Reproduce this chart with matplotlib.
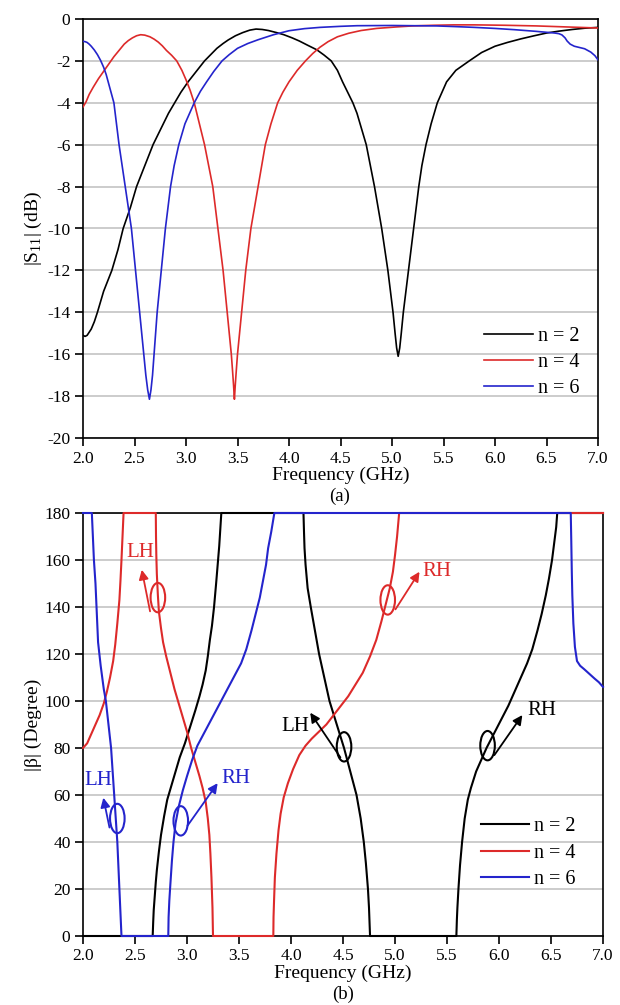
import numpy as np
import matplotlib
matplotlib.use('Agg')
import matplotlib.pyplot as plt
from matplotlib.patches import Ellipse

plt.rcParams['font.family'] = ['Liberation Serif', 'DejaVu Serif']
plt.rcParams['mathtext.fontset'] = 'custom'
plt.rcParams['mathtext.rm'] = 'Liberation Serif'
plt.rcParams['axes.unicode_minus'] = False
plt.rcParams['font.size'] = 12.5

# ---------------- (a) |S11| data ----------------
s11_n2_f = [2.0, 2.02, 2.04, 2.06, 2.08, 2.11, 2.14, 2.17, 2.2, 2.24, 2.28, 2.31, 2.34, 2.365, 2.39, 2.425,
            2.46, 2.49, 2.52, 2.56, 2.6, 2.64, 2.68, 2.73, 2.78, 2.83, 2.89, 2.95, 3.02, 3.1, 3.18, 3.24,
            3.3, 3.36, 3.41, 3.48, 3.55, 3.62, 3.68, 3.74, 3.8, 3.88, 3.95, 4.03, 4.1, 4.18, 4.27, 4.34,
            4.41, 4.47, 4.52, 4.57, 4.62, 4.66, 4.69, 4.72, 4.75, 4.79, 4.83, 4.865, 4.9, 4.93, 4.96, 4.985,
            5.01, 5.03, 5.045, 5.06, 5.075, 5.09, 5.11, 5.135, 5.16, 5.185, 5.21, 5.235, 5.26, 5.29, 5.33,
            5.38, 5.44, 5.53, 5.62, 5.75, 5.87, 6.0, 6.12, 6.25, 6.38, 6.5, 6.62, 6.75, 6.87, 7.0]
s11_n2 = [-15.1, -15.15, -15.1, -14.95, -14.8, -14.45, -14.0, -13.5, -13.0, -12.5, -12.0, -11.5, -11.0, -10.5, -10.0, -9.5,
          -9.0, -8.5, -8.0, -7.5, -7.0, -6.5, -6.0, -5.5, -5.0, -4.5, -4.0, -3.5, -3.0, -2.5, -2.0, -1.7,
          -1.4, -1.17, -1.0, -0.8, -0.65, -0.53, -0.48, -0.5, -0.55, -0.65, -0.75, -0.9, -1.05, -1.25, -1.47, -1.72,
          -2.0, -2.45, -3.0, -3.5, -4.0, -4.5, -5.0, -5.5, -6.0, -7.0, -8.0, -9.0, -10.0, -11.0, -12.0, -13.0,
          -14.0, -15.0, -15.7, -16.1, -15.7, -15.0, -14.0, -13.0, -12.0, -11.0, -10.0, -9.0, -8.0, -7.0, -6.0,
          -5.0, -4.0, -3.0, -2.45, -2.0, -1.6, -1.3, -1.12, -0.95, -0.8, -0.67, -0.58, -0.5, -0.44, -0.4]

s11_n4_f = [2.0, 2.03, 2.06, 2.1, 2.15, 2.2, 2.25, 2.3, 2.35, 2.4, 2.44, 2.48, 2.52, 2.56, 2.6, 2.65, 2.69,
            2.73, 2.77, 2.81, 2.86, 2.91, 2.96, 3.0, 3.04, 3.08, 3.13, 3.18, 3.22, 3.26, 3.285, 3.31, 3.335,
            3.36, 3.38, 3.4, 3.42, 3.44, 3.452, 3.462, 3.47, 3.478, 3.488, 3.5, 3.52, 3.54, 3.56, 3.58, 3.605,
            3.63, 3.665, 3.7, 3.735, 3.77, 3.825, 3.89, 3.94, 4.0, 4.08, 4.16, 4.23, 4.3, 4.38, 4.47, 4.58,
            4.7, 4.85, 5.04, 5.2, 5.4, 5.6, 5.8, 6.1, 6.4, 6.7, 7.0]
s11_n4 = [-4.2, -3.95, -3.6, -3.25, -2.85, -2.5, -2.15, -1.8, -1.5, -1.2, -1.03, -0.9, -0.8, -0.75, -0.77, -0.85, -0.96,
          -1.1, -1.28, -1.5, -1.73, -2.0, -2.45, -2.9, -3.4, -4.0, -5.0, -6.0, -7.0, -8.0, -9.0, -10.0, -11.0,
          -12.0, -13.0, -14.0, -15.0, -16.0, -16.8, -17.5, -18.15, -17.5, -16.8, -16.0, -15.0, -14.0, -13.0, -12.0, -11.0,
          -10.0, -9.0, -8.0, -7.0, -6.0, -5.0, -4.0, -3.5, -3.0, -2.45, -2.0, -1.65, -1.35, -1.08, -0.85, -0.68,
          -0.55, -0.45, -0.38, -0.33, -0.3, -0.28, -0.28, -0.3, -0.33, -0.38, -0.43]

s11_n6_f = [2.0, 2.02, 2.04, 2.06, 2.08, 2.11, 2.14, 2.17, 2.2, 2.225, 2.25, 2.275, 2.3, 2.325, 2.35, 2.38,
            2.41, 2.44, 2.47, 2.49, 2.51, 2.53, 2.55, 2.57, 2.59, 2.61, 2.628, 2.645, 2.66, 2.675, 2.69, 2.705,
            2.72, 2.74, 2.76, 2.78, 2.8, 2.825, 2.85, 2.885, 2.93, 2.99, 3.08, 3.14, 3.2, 3.27, 3.35, 3.42,
            3.5, 3.6, 3.7, 3.85, 4.0, 4.15, 4.3, 4.5, 4.66, 5.0, 5.2, 5.43, 5.6, 5.8, 6.0, 6.19, 6.4, 6.58,
            6.62, 6.65, 6.68, 6.7, 6.73, 6.77, 6.82, 6.87, 6.93, 6.97, 7.0]
s11_n6 = [-1.07, -1.08, -1.12, -1.2, -1.3, -1.48, -1.7, -1.97, -2.3, -2.65, -3.1, -3.55, -4.0, -5.0, -6.0, -7.0,
          -8.0, -9.0, -10.0, -11.0, -12.0, -13.0, -14.0, -15.0, -16.0, -17.0, -17.7, -18.15, -17.7, -17.0, -16.0, -15.0,
          -14.0, -13.0, -12.0, -11.0, -10.0, -9.0, -8.0, -7.0, -6.0, -5.0, -4.0, -3.45, -3.0, -2.5, -2.0, -1.7,
          -1.4, -1.17, -0.99, -0.75, -0.56, -0.46, -0.4, -0.35, -0.32, -0.31, -0.32, -0.33, -0.36, -0.4, -0.45, -0.51, -0.59, -0.67,
          -0.7, -0.76, -0.9, -1.05, -1.2, -1.3, -1.36, -1.42, -1.58, -1.75, -1.95]

# ---------------- (b) |beta| data ----------------
b_n2_f = [2.0, 2.67, 2.675, 2.68, 2.69, 2.7, 2.71, 2.73, 2.75, 2.78, 2.81, 2.85, 2.89, 2.93, 2.98, 3.03,
          3.08, 3.12, 3.15, 3.18, 3.2, 3.22, 3.24, 3.26, 3.28, 3.295, 3.31, 3.32, 3.33,
          4.12, 4.125, 4.13, 4.14, 4.16, 4.19, 4.23, 4.27, 4.32, 4.37, 4.44, 4.51, 4.57, 4.63, 4.67, 4.7,
          4.72, 4.74, 4.75, 4.76,
          5.59, 5.595, 5.6, 5.61, 5.625, 5.645, 5.67, 5.7, 5.73, 5.78, 5.83, 5.88, 5.95, 6.02, 6.09, 6.15,
          6.21, 6.27, 6.32, 6.37, 6.41, 6.45, 6.48, 6.51, 6.53, 6.55, 6.56, 7.0]
b_n2 = [0, 0, 6, 11, 17, 23, 28, 36, 43, 51, 58, 64, 70, 76, 82, 89,
        96, 102, 107, 113, 119, 126, 132, 140, 150, 158, 166, 173, 180,
        180, 172, 165, 158, 148, 140, 130, 120, 110, 100, 90, 80, 70, 60, 50, 40,
        31, 20, 12, 0,
        0, 7, 12, 20, 30, 40, 50, 58, 63, 70, 75, 80, 86, 92, 98, 104,
        110, 116, 122, 130, 137, 145, 152, 160, 167, 174, 180, 180]

b_n4_f = [2.0, 2.04, 2.08, 2.12, 2.16, 2.2, 2.23, 2.26, 2.29, 2.31, 2.33, 2.35, 2.36, 2.37, 2.38, 2.39,
          2.7, 2.702, 2.705, 2.71, 2.72, 2.73, 2.75, 2.77, 2.8, 2.84, 2.88, 2.92, 2.96, 3.0, 3.04, 3.08,
          3.12, 3.15, 3.18, 3.2, 3.215, 3.225, 3.235, 3.245, 3.25,
          3.83, 3.832, 3.837, 3.845, 3.86, 3.88, 3.9, 3.93, 3.97, 4.02, 4.08, 4.14, 4.2, 4.27, 4.34, 4.41,
          4.48, 4.55, 4.62, 4.69, 4.76, 4.82, 4.87, 4.91, 4.95, 4.98, 5.0, 5.02, 5.04, 7.0]
b_n4 = [80, 82, 86, 90, 94, 99, 104, 110, 117, 124, 133, 143, 151, 160, 170, 180,
        180, 170, 162, 154, 145, 138, 131, 125, 119, 112, 105, 99, 93, 87, 80, 74,
        68, 63, 57, 50, 43, 35, 25, 12, 0,
        0, 8, 15, 25, 35, 45, 52, 59, 65, 71, 77, 81, 84, 87, 90, 94,
        98, 102, 107, 112, 119, 126, 134, 141, 148, 155, 162, 170, 180, 180]

b_n6_f = [2.0, 2.085, 2.095, 2.105, 2.12, 2.13, 2.145, 2.17, 2.2, 2.22, 2.245, 2.27, 2.285, 2.3, 2.315,
          2.33, 2.34, 2.35, 2.36, 2.37,
          2.82, 2.823, 2.83, 2.84, 2.855, 2.87, 2.89, 2.92, 2.96, 3.0, 3.05, 3.1, 3.16, 3.22, 3.28, 3.34,
          3.4, 3.46, 3.52, 3.57, 3.62, 3.66, 3.7, 3.73, 3.76, 3.78, 3.81, 3.84,
          6.69, 6.695, 6.7, 6.705, 6.715, 6.73, 6.75, 6.78, 6.82, 6.87, 6.92, 6.96, 7.0]
b_n6 = [180, 180, 170, 160, 150, 140, 125, 115, 105, 100, 90, 80, 70, 60, 50,
        40, 30, 20, 10, 0,
        0, 8, 15, 22, 32, 40, 48, 55, 62, 68, 75, 81, 86, 91, 96, 101,
        106, 111, 116, 122, 130, 137, 144, 151, 158, 165, 172, 180,
        180, 168, 155, 145, 133, 123, 117, 115, 113.5, 111.5, 109.5, 108, 106]

labels = ['n = 2', 'n = 4', 'n = 6']
colors = ['black', '#dd2a2a', '#2424cc']

fig = plt.figure(figsize=(6.2, 10.05), dpi=100)
W, H = 620.0, 1005.0
ax1 = fig.add_axes([83 / W, 1 - 438 / H, (598 - 83) / W, (438 - 19) / H])
ax2 = fig.add_axes([83 / W, 1 - 936 / H, (603 - 83) / W, (936 - 513) / H])

for f, s, c, lab in zip([s11_n2_f, s11_n4_f, s11_n6_f], [s11_n2, s11_n4, s11_n6], colors, labels):
    ax1.plot(f, s, color=c, lw=1.2, label=lab, zorder=3)

for f, b, c, lab in zip([b_n2_f, b_n4_f, b_n6_f], [b_n2, b_n4, b_n6], colors, labels):
    ax2.plot(f, b, color=c, lw=1.5, label=lab, zorder=3, clip_on=False)

ax1.set_xlim(2.0, 7.0)
ax1.set_ylim(-20, 0)
ax1.set_yticks(np.arange(-20, 1, 2))
ax1.set_ylabel(r'|S$_{\mathregular{11}}$| (dB)', labelpad=2, fontsize=14)
ax1.set_xlabel('Frequency (GHz)', labelpad=0, fontsize=14)

ax2.set_xlim(2.0, 7.0)
ax2.set_ylim(0, 180)
ax2.set_yticks(np.arange(0, 181, 20))
ax2.set_ylabel('|β| (Degree)', labelpad=2, fontsize=14)
ax2.set_xlabel('Frequency (GHz)', labelpad=0, fontsize=14)

for ax, lx, ly in ((ax1, 0.779, 0.181), (ax2, 0.765, 0.196)):
    ax.set_xticks(np.arange(2.0, 7.01, 0.5))
    ax.set_xticklabels(['%.1f' % v for v in np.arange(2.0, 7.01, 0.5)])
    ax.tick_params(direction='out', length=6, width=1.2, pad=3)
    ax.grid(axis='y', color='#c4c4c4', lw=1.2)
    ax.set_axisbelow(True)
    for sp in ax.spines.values():
        sp.set_linewidth(1.2)
    ax.legend(loc='center left', frameon=False, handlelength=2.4, handletextpad=0.25,
              labelspacing=0.35, borderaxespad=0, borderpad=0, fontsize=14.5,
              bbox_to_anchor=(lx, ly))

fig.text(340 / W, 1 - 496 / H, '(a)', ha='center', va='center', fontsize=13.5)
fig.text(343 / W, 1 - 994 / H, '(b)', ha='center', va='center', fontsize=13.5)

# LH / RH annotations on (b)
marks = [
    # ellipse centre, arrow start, arrow end, text pos, text, color
    ((2.72, 144), (2.65, 137), (2.56, 157), (2.55, 163), 'LH', colors[1]),
    ((4.93, 143), (4.99, 138), (5.25, 156), (5.4, 155), 'RH', colors[1]),
    ((4.51, 80.5), (4.49, 75), (4.17, 96), (4.04, 89), 'LH', colors[0]),
    ((5.89, 81), (5.94, 76), (6.24, 95), (6.41, 96), 'RH', colors[0]),
    ((2.33, 50), (2.26, 45), (2.19, 60), (2.15, 66), 'LH', colors[2]),
    ((2.94, 49), (2.99, 46), (3.31, 66), (3.47, 67), 'RH', colors[2]),
]
for cen, a0, a1, tp, txt, c in marks:
    ax2.add_patch(Ellipse(cen, 0.14, 12.5, fill=False, ec=c, lw=1.5, zorder=4))
    ax2.annotate('', xy=a1, xytext=a0,
                 arrowprops=dict(arrowstyle='-|>', color=c, lw=1.3, mutation_scale=14), zorder=4)
    ax2.text(tp[0], tp[1], txt, color=c, ha='center', va='center', fontsize=15, zorder=4)

plt.savefig('out.png', dpi=100)
